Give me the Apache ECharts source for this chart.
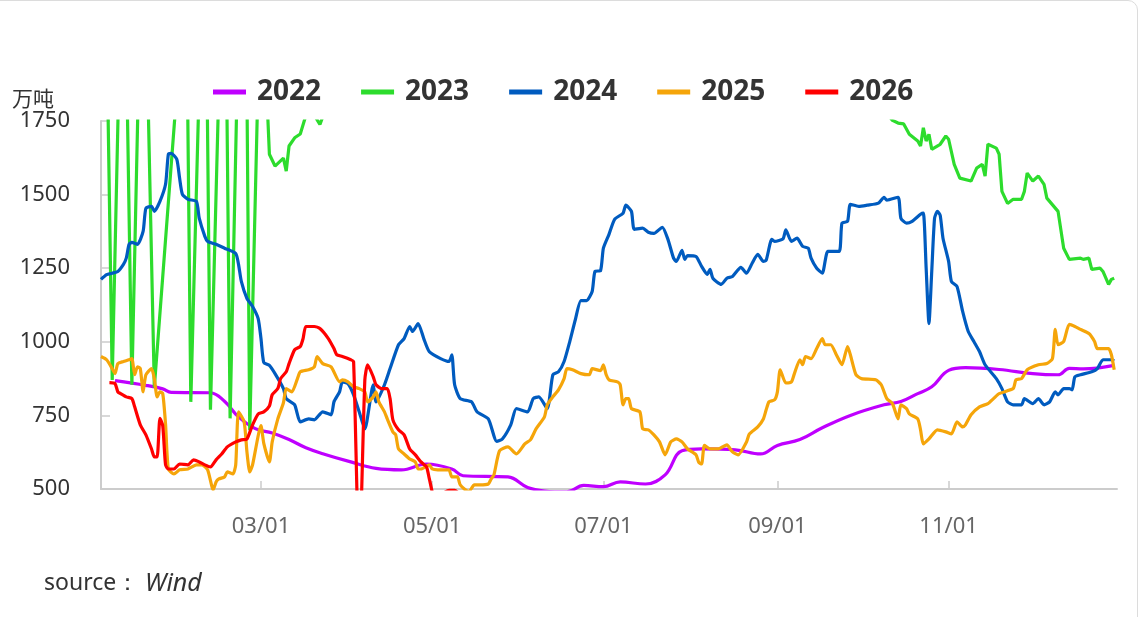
<!DOCTYPE html>
<html><head><meta charset="utf-8">
<script src="https://cdn.jsdelivr.net/npm/echarts/dist/echarts.min.js"></script>
<style>
html,body{margin:0;padding:0;background:#fff;overflow:hidden;}
#frame{position:absolute;left:-12px;top:0;width:1150px;height:640px;border:1px solid #dcdcdc;border-radius:10px;box-sizing:border-box;}
#chart{position:absolute;left:0;top:0;width:1142px;height:617px;}
</style></head><body>
<div id="frame"></div>
<div id="chart"></div>
<script>
// x = day of year (0 = 01/01), y = 万吨
const years = ['2022','2023','2024','2025','2026'];
const colors = ['#bf00ff','#2ddc2d','#005bbf','#f5a50a','#ff0000'];
const xTickDays = [59,120,181,243,304];
const xTickLabels = ['03/01','05/01','07/01','09/01','11/01'];
const yTicks = [500,750,1000,1250,1500,1750];

const d2022 = [[7,868],[18,852],[24,840],[27,828],[41,827],[46,798],[51,745],[57,705],[63,690],[69,668],[75,640],[81,620],[91,592],[100,570],[109,565],[118,585],[127,568],[131,545],[147,541],[154,505],[160,493],[168,490],[174,512],[181,508],[187,524],[196,517],[203,548],[209,630],[216,636],[228,633],[237,619],[243,648],[251,668],[259,708],[269,750],[281,786],[287,797],[293,824],[298,847],[304,903],[310,912],[322,906],[334,892],[343,888],[347,910],[352,908],[363,920]];

const d2023 = [[3,2700],[6,870],[10,2600],[13,854],[17,2600],[21,845],[29,1850],[32,2600],[34,796],[39,2600],[41,769],[46,2600],[48,740],[53,3000],[55,700],[59,2300],[62,1637],[64,1597],[67,1624],[68,1580],[69,1665],[71,1693],[73,1706],[76,1800],[78,1770],[80,1738],[82,1790],[90,1950],[120,2100],[150,2200],[180,2250],[210,2200],[240,2100],[270,1950],[280,1800],[284,1752],[286,1743],[288,1740],[290,1705],[293,1682],[294,1665],[295,1727],[296,1682],[297,1705],[298,1654],[301,1671],[303,1699],[304,1688],[306,1603],[308,1556],[312,1546],[314,1590],[316,1603],[317,1563],[318,1671],[321,1658],[322,1637],[323,1511],[325,1470],[327,1484],[330,1484],[331,1511],[332,1573],[334,1546],[336,1563],[338,1535],[339,1488],[343,1443],[345,1318],[347,1280],[351,1284],[352,1280],[354,1284],[355,1246],[358,1250],[359,1239],[361,1195],[362,1212],[363,1216]];

const d2024 = [[2,1212],[4,1228],[6,1233],[8,1239],[10,1263],[11,1284],[12,1331],[13,1338],[15,1331],[17,1375],[18,1454],[20,1460],[21,1443],[23,1477],[25,1535],[26,1637],[27,1640],[29,1620],[30,1556],[31,1501],[33,1484],[36,1477],[37,1420],[39,1358],[40,1341],[43,1331],[46,1318],[50,1300],[51,1263],[52,1205],[54,1147],[56,1120],[58,1079],[59,1011],[60,930],[62,920],[64,892],[67,841],[68,807],[71,786],[73,728],[76,738],[78,735],[81,762],[84,752],[85,796],[87,830],[88,864],[90,858],[92,820],[94,762],[96,704],[99,854],[100,796],[103,854],[105,909],[108,990],[110,1011],[112,1052],[113,1035],[115,1062],[117,1011],[119,966],[123,943],[126,933],[127,956],[128,854],[130,807],[134,796],[136,762],[140,738],[143,662],[145,670],[148,718],[150,773],[154,762],[156,807],[158,813],[161,773],[163,888],[165,898],[167,933],[169,1000],[171,1075],[173,1140],[175,1140],[177,1171],[178,1239],[180,1242],[181,1318],[183,1365],[185,1416],[188,1437],[189,1464],[191,1443],[192,1382],[195,1386],[197,1372],[199,1368],[202,1389],[204,1348],[206,1284],[207,1273],[209,1311],[210,1280],[211,1293],[214,1290],[216,1256],[218,1229],[219,1246],[220,1216],[223,1195],[225,1216],[227,1222],[230,1253],[232,1233],[234,1267],[236,1297],[238,1273],[239,1277],[241,1348],[242,1341],[245,1350],[246,1380],[248,1341],[250,1352],[252,1324],[254,1318],[255,1284],[257,1250],[259,1233],[261,1307],[265,1307],[266,1403],[268,1409],[269,1467],[272,1460],[275,1464],[279,1471],[281,1491],[282,1481],[286,1491],[287,1420],[289,1403],[291,1409],[294,1433],[295,1437],[296,1250],[297,1062],[298,1240],[299,1420],[300,1443],[301,1430],[302,1352],[304,1273],[305,1205],[307,1188],[309,1103],[311,1035],[313,1001],[315,967],[317,922],[321,875],[323,841],[325,796],[327,786],[330,786],[331,807],[334,790],[336,807],[338,786],[340,796],[342,830],[343,820],[345,841],[347,841],[348,837],[349,881],[351,888],[355,898],[357,909],[359,939],[362,939],[363,935]];

const d2025 = [[2,950],[4,939],[6,909],[7,892],[8,926],[10,933],[12,939],[13,943],[14,888],[15,915],[16,909],[17,830],[18,888],[20,909],[21,875],[22,813],[23,830],[24,824],[25,720],[26,568],[28,551],[30,565],[33,568],[36,582],[38,582],[40,565],[42,497],[43,524],[44,534],[46,541],[47,558],[49,551],[50,582],[51,762],[53,728],[54,626],[55,558],[56,582],[59,715],[60,655],[62,592],[63,660],[65,738],[67,793],[68,841],[70,830],[72,875],[73,898],[76,905],[78,915],[79,950],[81,926],[84,915],[87,864],[88,871],[90,864],[92,847],[94,841],[96,830],[97,796],[99,813],[100,830],[101,796],[103,762],[104,738],[106,694],[107,684],[108,636],[110,619],[112,602],[114,592],[115,568],[116,568],[119,582],[120,568],[122,565],[124,565],[126,565],[127,541],[129,541],[130,514],[133,490],[135,514],[137,514],[140,517],[141,534],[142,548],[144,630],[147,643],[150,619],[153,653],[155,667],[157,704],[160,745],[161,786],[163,813],[165,837],[167,875],[168,909],[170,905],[173,892],[176,888],[177,909],[180,902],[181,922],[182,888],[183,871],[186,864],[187,854],[188,786],[189,807],[190,807],[191,773],[194,762],[195,704],[197,701],[199,684],[201,660],[203,616],[205,660],[207,670],[209,660],[211,636],[214,616],[215,590],[216,585],[217,648],[219,636],[222,636],[225,650],[227,626],[229,616],[232,660],[233,687],[236,711],[238,738],[239,769],[240,796],[242,803],[243,830],[244,905],[246,860],[248,864],[249,890],[251,939],[252,922],[253,950],[255,943],[257,977],[259,1011],[260,990],[262,990],[264,956],[266,922],[268,984],[269,956],[271,888],[273,875],[278,871],[280,854],[282,807],[284,790],[286,738],[287,786],[289,773],[290,755],[293,738],[294,701],[295,653],[297,670],[300,701],[303,694],[305,687],[307,728],[309,711],[310,718],[312,752],[315,779],[318,790],[320,807],[322,824],[327,841],[328,871],[330,875],[332,905],[336,922],[339,926],[341,943],[342,1042],[343,990],[345,1001],[347,1059],[349,1052],[351,1042],[354,1028],[356,1001],[357,977],[361,977],[362,956],[363,905]];

const d2026 = [[5,861],[7,858],[8,830],[9,824],[11,813],[13,807],[14,779],[16,718],[18,684],[20,636],[21,609],[22,609],[23,740],[24,715],[25,582],[26,568],[28,568],[30,585],[33,582],[35,599],[37,592],[39,582],[41,575],[43,599],[45,619],[47,643],[50,660],[52,667],[54,670],[56,718],[58,755],[60,762],[62,782],[63,820],[65,841],[66,875],[68,898],[69,926],[71,973],[73,984],[74,1011],[75,1052],[78,1052],[80,1045],[83,1011],[85,977],[86,956],[88,950],[91,939],[92,933],[94,250],[96,870],[97,922],[99,881],[100,854],[102,841],[104,841],[105,807],[106,735],[108,701],[110,684],[112,636],[114,616],[116,592],[118,575],[119,534],[121,470],[126,495],[128,495],[131,470]];

const allData = [d2022,d2023,d2024,d2025,d2026];
const smoothness = [0.4, false, 0.2, 0.2, 0.2];

function dayLabel(v){
  const i = xTickDays.indexOf(Math.round(v));
  return i >= 0 ? xTickLabels[i] : '';
}

const chart = echarts.init(document.getElementById('chart'), null, {renderer:'canvas'});
const option = {
  animation:false,
  backgroundColor:'transparent',
  grid:{left:101,right:25,top:121,bottom:128,containLabel:false},
  legend:{
    left:208, top:73, icon:'rect', itemWidth:33, itemHeight:5, itemGap:40,
    data:years,
    textStyle:{fontSize:28,fontWeight:'bold',color:'#333',fontFamily:'Noto Sans',padding:[0,0,0,6]}
  },
  xAxis:{
    type:'value', min:2, max:364,
    axisLine:{show:true,lineStyle:{color:'#cccccc',width:2}},
    axisTick:{show:true,inside:true,length:8,customValues:xTickDays,lineStyle:{color:'#cccccc',width:1.5}},
    axisLabel:{customValues:xTickDays,formatter:dayLabel,margin:27,fontSize:22,color:'#666',fontFamily:'Noto Sans'},
    splitLine:{show:false}
  },
  yAxis:{
    type:'value', min:yTicks[0], max:yTicks[yTicks.length-1], interval:250,
    axisLine:{show:true,lineStyle:{color:'#cccccc',width:2}},
    axisTick:{show:true,inside:true,length:9,lineStyle:{color:'#cccccc',width:1.5}},
    axisLabel:{margin:31,fontSize:22,color:'#333',fontFamily:'Noto Sans',formatter:v=>String(v)},
    splitLine:{show:false}
  },
  graphic:[
    {type:'text',left:12,top:88,style:{text:'万吨',fontSize:21,fill:'#333',fontFamily:'Noto Sans CJK SC'}},
    {type:'text',left:44,top:572,style:{text:'source：',fontSize:23,fill:'#333',fontFamily:'Noto Sans'}},
    {type:'text',left:145,top:571,style:{text:'Wind',fontSize:25,fontStyle:'italic',fill:'#333',fontFamily:'Noto Sans'}}
  ],
  series: years.map((y,i)=>({
    name:y, type:'line', data:allData[i], showSymbol:false, symbol:'none',
    smooth:smoothness[i], clip:true,
    lineStyle:{width:3.2,color:colors[i]}, itemStyle:{color:colors[i]},
    z: i===4 ? 5 : 2
  }))
};
chart.setOption(option);
</script></body></html>
